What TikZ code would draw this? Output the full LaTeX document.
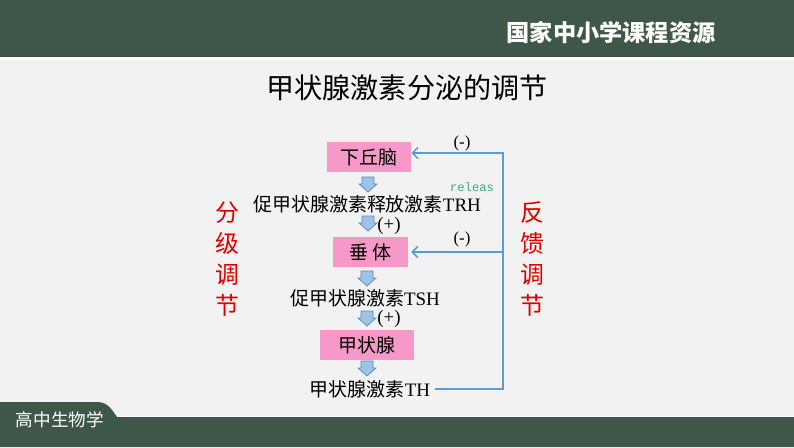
\documentclass[tikz,border=0pt]{standalone}
\usepackage{fontspec}
\setmainfont{Liberation Serif}
\setmonofont{Liberation Mono}
\newfontfamily\cjk{Noto Sans CJK SC}
\usetikzlibrary{positioning,arrows.meta}
\definecolor{bandgreen}{RGB}{62,87,72}
\definecolor{pagegray}{RGB}{242,242,242}
\definecolor{boxpink}{RGB}{246,152,200}
\definecolor{fbblue}{RGB}{91,155,213}
\definecolor{arrowfill}{RGB}{157,195,230}
\definecolor{arrowdraw}{RGB}{95,135,185}
\definecolor{relgreen}{RGB}{60,170,130}
\definecolor{redtext}{RGB}{225,0,0}
\tikzset{
  organ/.style={rectangle, fill=boxpink, minimum height=0.75cm, inner sep=0pt, font=\fontsize{13.5}{16}\cjk},
  hormone/.style={inner sep=0pt, font=\fontsize{13.5}{16}\selectfont},
  sign/.style={inner sep=0pt, font=\fontsize{12}{14}\selectfont},
  fbline/.style={draw=fbblue, line width=1.1pt},
  sidelabel/.style={inner sep=0pt, text=redtext, font=\fontsize{17}{19}\cjk},
  downblock/.pic={\draw[draw=arrowdraw, fill=arrowfill, line width=0.5pt] (-6,0) -- (6,0) -- (6,7) -- (9,7) -- (0,15) -- (-9,7) -- (-6,7) -- cycle;}
}
\begin{document}
\begin{tikzpicture}[x=0.025cm, y=-0.025cm]
		\useasboundingbox (0,0) rectangle (794,447);
		\fill[pagegray] (0,0) rectangle (794,447);
		\fill[bandgreen] (0,0) rectangle (794,57);
		\fill[white] (0,57) rectangle (794,60);
		\fill[bandgreen] (0,402) -- (97,402) .. controls (108,402) and (112,410) .. (117,417) -- (794,417) -- (794,447) -- (0,447) -- cycle;
		\draw[white, line width=0.6pt] (117,416.6) -- (794,416.6);
		\node[text=white, font=\fontsize{16.5}{18}\cjk\bfseries] (site) at (611,33) {国家中小学课程资源};
		\node[text=white, anchor=west, font=\fontsize{12.5}{14}\cjk] (course) at (11,420) {高中生物学};
		\node[font=\fontsize{20}{24}\cjk] (title) at (407,88) {甲状腺激素分泌的调节};
		\node[organ, minimum width=2.1cm] (hypo) at (369,157) {下丘脑};
		\pic at (368,177) {downblock};
		\node[hormone] (trh) at (367,204) {{\cjk 促甲状腺激素释放激素}TRH};
		\node[inner sep=0pt, text=relgreen, font=\fontsize{8.7}{10}\ttfamily] (rel) at (472,187) {releas};
		\pic at (368,216) {downblock};
		\node[sign, font=\fontsize{13.5}{16}\selectfont] (plus1) at (389,226) {(+)};
		\node[organ, minimum width=1.875cm] (pit) at (370.5,252) {垂\hspace{3pt}体};
		\pic at (367,271) {downblock};
		\node[hormone] (tsh) at (365,298) {{\cjk 促甲状腺激素}TSH};
		\pic at (367,311) {downblock};
		\node[sign, font=\fontsize{13.5}{16}\selectfont] (plus2) at (389,319) {(+)};
		\node[organ, minimum width=2.35cm] (thy) at (367,345) {甲状腺};
		\pic at (367,361) {downblock};
		\node[hormone] (th) at (370,389) {{\cjk 甲状腺激素}TH};
		\coordinate (fbc) at (503,153);
		\draw[fbline, -{Straight Barb[length=4pt,width=8pt]}] ([xshift=3pt]th.east) -| (fbc) -- (fbc -| hypo.east);
		\draw[fbline, -{Straight Barb[length=4pt,width=8pt]}] (fbc |- pit.east) -- ([xshift=2pt]pit.east);
		\node[sign] (minus1) at (462,143) {(-)};
		\node[sign] (minus2) at (462,239) {(-)};
		\node[sidelabel] (fen) at (227,213) {分};
		\node[sidelabel, below=6pt of fen] (ji) {级};
		\node[sidelabel, below=6pt of ji] (tiao1) {调};
		\node[sidelabel, below=6pt of tiao1] (jie1) {节};
		\node[sidelabel] (fan) at (532,213) {反};
		\node[sidelabel, below=6pt of fan] (kui) {馈};
		\node[sidelabel, below=6pt of kui] (tiao2) {调};
		\node[sidelabel, below=6pt of tiao2] (jie2) {节};
	\end{tikzpicture}
\end{document}
